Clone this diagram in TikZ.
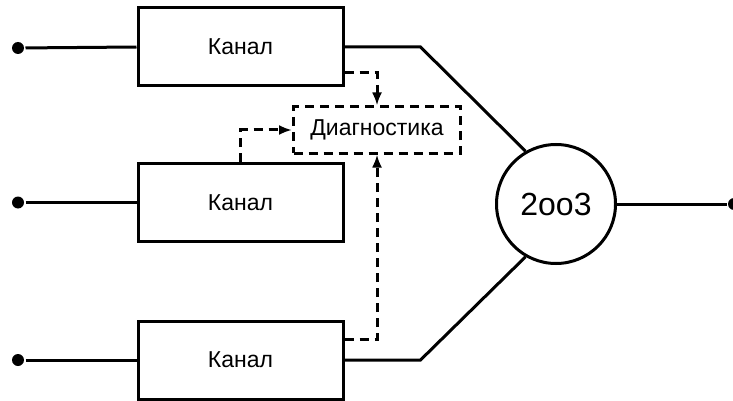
\documentclass[tikz,border=0pt]{standalone}
\usepackage{fontspec}
\setmainfont{Liberation Sans}
\usetikzlibrary{arrows.meta}
\begin{document}
\begin{tikzpicture}[x=1pt,y=-1pt,
  line width=3pt,
  chan/.style={draw, rectangle, minimum width=205pt, minimum height=78pt, inner sep=0pt, font=\fontsize{23}{27}\selectfont},
  diagbox/.style={draw, dash pattern=on 9pt off 6pt, rectangle, minimum width=167pt, minimum height=46pt, inner sep=0pt, font=\fontsize{23}{27}\selectfont},
  voter/.style={draw, circle, minimum size=119pt, inner sep=0pt, font=\fontsize{32}{38}\selectfont},
  dot/.style={circle, fill, inner sep=0pt, minimum size=12pt},
  darrow/.style={dash pattern=on 9pt off 6pt, -{Latex[length=13pt,width=10pt]}}
]
\useasboundingbox (0,0) rectangle (733,401);
\node[chan] (c1) at (240.5,47) {Канал};
\node[chan] (c2) at (240.5,202.5) {Канал};
\node[chan] (c3) at (240.5,360) {Канал};
\node[diagbox] (diag) at (377,130) {Диагностика};
\node[voter] (v) at (556,204) {2oo3};
\node[dot] (in1) at (18,48) {};
\node[dot] (in2) at (18,202.5) {};
\node[dot] (in3) at (18,360) {};
\node[dot] (out) at (734,204) {};
\draw (in1) -- (c1.west);
\draw (in2) -- (c2.west);
\draw (in3) -- (c3.west);
\draw (v.east) -- (out);
\draw (c1.east) -- ++(76,0) -- (v.120);
\draw (c3.east) -- ++(76,0) -- (v.240);
\draw[darrow] ([yshift=15pt]c1.south east) -| (diag.north);
\draw[darrow] (c2.north) |- (diag.west);
\draw[darrow] ([yshift=-20pt]c3.north east) -| (diag.south);
\end{tikzpicture}
\end{document}
